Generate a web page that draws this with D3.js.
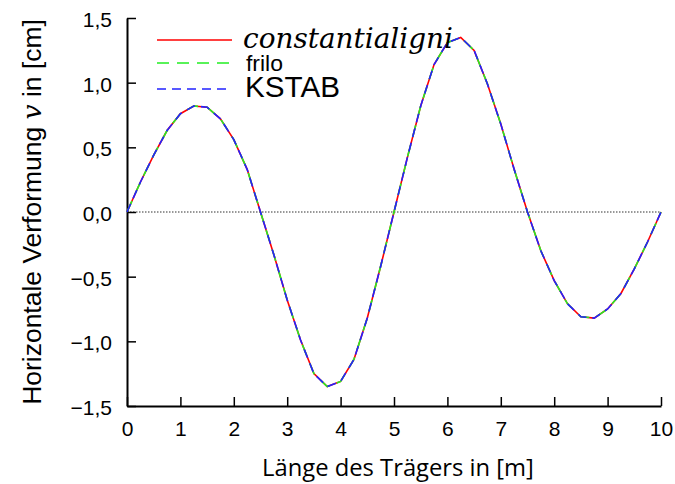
<!DOCTYPE html>
<html>
<head>
<meta charset="utf-8">
<script src="https://cdn.jsdelivr.net/npm/d3@7"></script>
<style>
  body { margin: 0; background: #fff; }
  svg { display: block; }
</style>
</head>
<body>
<div id="chart"></div>
<script>
// Stellen entlang des Trägers [m]
const xValues = [0, 0.25, 0.5, 0.75, 1, 1.25, 1.5, 1.75, 2, 2.25, 2.5, 2.75, 3, 3.25, 3.5, 3.75, 4, 4.25, 4.5, 4.75,
                 5, 5.25, 5.5, 5.75, 6, 6.25, 6.5, 6.75, 7, 7.25, 7.5, 7.75, 8, 8.25, 8.5, 8.75, 9, 9.25, 9.5, 9.75, 10];

// Verformung v [cm], drei Programme (praktisch deckungsgleich)
const vConstantia = [0, 0.23, 0.44, 0.63, 0.76, 0.82, 0.81, 0.72, 0.56, 0.33, 0, -0.33, -0.68, -0.99, -1.25, -1.35, -1.31, -1.14, -0.82, -0.42,
                     0, 0.42, 0.82, 1.14, 1.31, 1.35, 1.25, 0.99, 0.68, 0.33, 0, -0.30, -0.53, -0.71, -0.81, -0.82, -0.75, -0.63, -0.44, -0.23, 0];
const vFrilo = [0, 0.23, 0.44, 0.63, 0.76, 0.82, 0.81, 0.72, 0.56, 0.33, 0, -0.33, -0.68, -0.99, -1.25, -1.35, -1.31, -1.14, -0.82, -0.42,
                0, 0.42, 0.82, 1.14, 1.31, 1.35, 1.25, 0.99, 0.68, 0.33, 0, -0.30, -0.53, -0.71, -0.81, -0.82, -0.75, -0.63, -0.44, -0.23, 0];
const vKstab = [0, 0.23, 0.44, 0.63, 0.76, 0.82, 0.81, 0.72, 0.56, 0.33, 0, -0.33, -0.68, -0.99, -1.25, -1.35, -1.31, -1.14, -0.82, -0.42,
                0, 0.42, 0.82, 1.14, 1.31, 1.35, 1.25, 0.99, 0.68, 0.33, 0, -0.30, -0.53, -0.71, -0.81, -0.82, -0.75, -0.63, -0.44, -0.23, 0];

const xTicks = [0, 1, 2, 3, 4, 5, 6, 7, 8, 9, 10];
const yTicks = [-1.5, -1.0, -0.5, 0, 0.5, 1.0, 1.5];
const seriesNames = ["constantialigni", "frilo", "KSTAB"];

const width = 675;
const height = 484;
const margin = { top: 18, right: 14, bottom: 78, left: 127 };

const svg = d3.select("#chart").append("svg")
    .attr("width", width)
    .attr("height", height);

const x = d3.scaleLinear().domain([0, 10]).range([margin.left, width - margin.right]);
const y = d3.scaleLinear().domain([-1.5, 1.5]).range([height - margin.bottom, margin.top]);

const fmt = d => (d < 0 ? "\u2212" : "") + Math.abs(d).toFixed(1).replace(".", ",");

// Nulllinie
svg.append("line")
    .attr("x1", x(0)).attr("x2", x(10))
    .attr("y1", y(0)).attr("y2", y(0))
    .attr("stroke", "#777")
    .attr("stroke-width", 1.5)
    .attr("stroke-dasharray", "1.5,1.5");

// Achsen (Ticks nach innen)
const xAxis = svg.append("g")
    .attr("transform", `translate(0,${y(-1.5)})`)
    .call(d3.axisBottom(x).tickValues(xTicks).tickSize(-9).tickSizeOuter(0).tickFormat(d3.format("d")));
const yAxis = svg.append("g")
    .attr("transform", `translate(${x(0)},0)`)
    .call(d3.axisLeft(y).tickValues(yTicks).tickSize(-9).tickSizeOuter(0).tickFormat(fmt));

[xAxis, yAxis].forEach(g => {
    g.select(".domain").attr("stroke", "#000").attr("stroke-width", 2);
    g.selectAll(".tick line").attr("stroke", "#000").attr("stroke-width", 1.5);
    g.selectAll(".tick text")
        .attr("fill", "#000")
        .style("font-family", "'Liberation Sans', Arial, sans-serif")
        .style("font-size", "21px");
});
xAxis.selectAll(".tick text").attr("y", 15).attr("dy", "0.71em");
yAxis.selectAll(".tick text").attr("x", -15).attr("dy", "0.4em");

// Kurven
const line = d3.line().x((d, i) => x(xValues[i])).y(d => y(d));

svg.append("path").datum(vConstantia)
    .attr("d", line).attr("fill", "none")
    .attr("stroke", "#ff0000").attr("stroke-width", 1.6);
svg.append("path").datum(vFrilo)
    .attr("d", line).attr("fill", "none")
    .attr("stroke", "#22ee22").attr("stroke-width", 1.6)
    .attr("stroke-dasharray", "12,8");
svg.append("path").datum(vKstab)
    .attr("d", line).attr("fill", "none")
    .attr("stroke", "#2222ff").attr("stroke-width", 1.6)
    .attr("stroke-dasharray", "9,6");

// Legende
const legend = svg.append("g");
const legY = [40, 63, 89];
const legStyles = [
    { color: "#ff0000", dash: null },
    { color: "#22ee22", dash: "12,8" },
    { color: "#2222ff", dash: "9,6" }
];
legStyles.forEach((s, i) => {
    legend.append("line")
        .attr("x1", 157).attr("x2", 232)
        .attr("y1", legY[i]).attr("y2", legY[i])
        .attr("stroke", s.color).attr("stroke-width", 1.6)
        .attr("stroke-dasharray", s.dash);
});

function fitText(sel, target) {
    const w = sel.node().getComputedTextLength();
    const fs = parseFloat(sel.style("font-size"));
    sel.style("font-size", (fs * target / w) + "px");
}

const t0 = legend.append("text").attr("x", 243).attr("y", 48)
    .style("font-family", "'DejaVu Serif', 'Liberation Serif', serif")
    .style("font-style", "italic").style("font-size", "24px")
    .text(seriesNames[0]);
fitText(t0, 210);
const t1 = legend.append("text").attr("x", 246).attr("y", 71)
    .style("font-family", "'Liberation Sans', Arial, sans-serif")
    .style("font-size", "21px")
    .text(seriesNames[1]);
fitText(t1, 37);
const t2 = legend.append("text").attr("x", 245).attr("y", 97)
    .style("font-family", "'Liberation Sans', Arial, sans-serif")
    .style("font-size", "28px")
    .text(seriesNames[2]);
fitText(t2, 95);

// Achsentitel
const xt = svg.append("text")
    .attr("x", 398).attr("y", 476)
    .attr("text-anchor", "middle")
    .style("font-family", "'Open Sans', 'Liberation Sans', sans-serif")
    .style("font-size", "21px")
    .text("Länge des Trägers in [m]");
fitText(xt, 272);

const yt = svg.append("text")
    .attr("transform", `translate(41,${y(0)}) rotate(-90)`)
    .attr("text-anchor", "middle")
    .style("font-family", "'Liberation Sans', Arial, sans-serif")
    .style("font-size", "21px");
yt.append("tspan").text("Horizontale Verformung ");
yt.append("tspan").style("font-family", "'DejaVu Serif', serif").style("font-style", "italic").text("v");
yt.append("tspan").text(" in [cm]");
fitText(yt, 386);
</script>
</body>
</html>
